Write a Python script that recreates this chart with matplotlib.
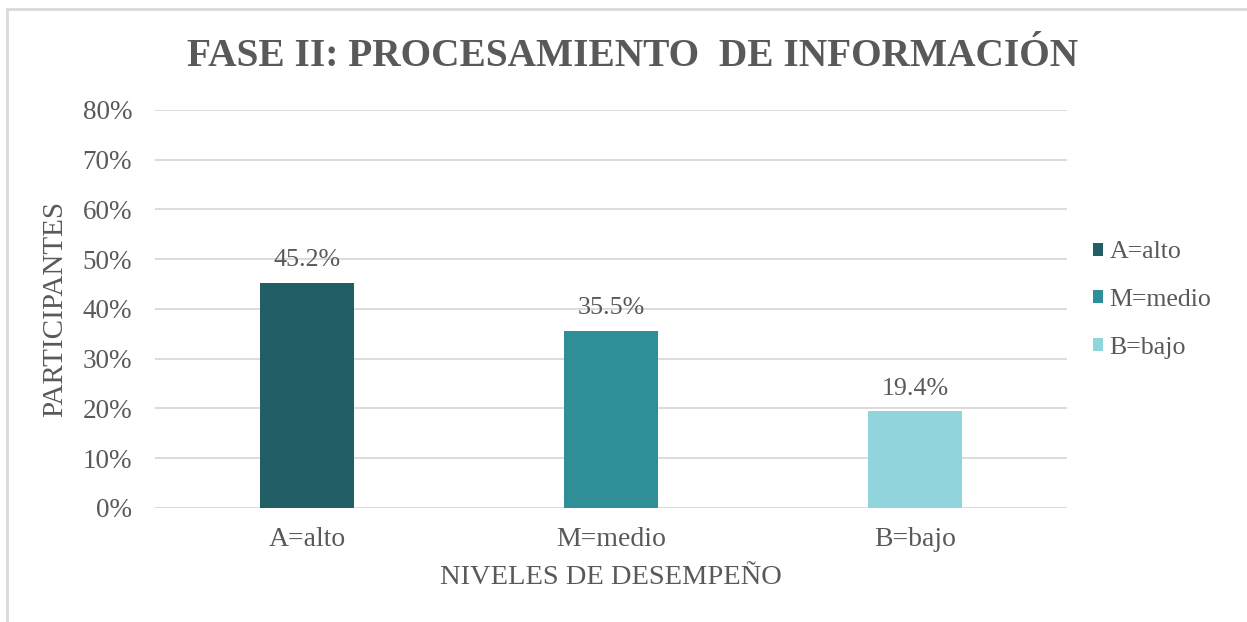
import matplotlib.pyplot as plt
from matplotlib.lines import Line2D
from matplotlib.patches import Patch
from matplotlib.ticker import FuncFormatter

# Data
categories = ['A=alto', 'M=medio', 'B=bajo']
values = [0.452, 0.355, 0.194]
labels = ['45.2%', '35.5%', '19.4%']
bar_colors = ['#215F65', '#2E8F99', '#91D5DC']

TEXT = '#595959'
GRID = '#D9D9D9'

plt.rcParams['font.family'] = ['Liberation Serif', 'DejaVu Serif']

fig = plt.figure(figsize=(12.47, 6.22), dpi=100)
ax = fig.add_axes([0.1243, 0.1833, 0.7314, 0.6399])

x = range(len(categories))
ax.bar(x, values, width=0.31, color=bar_colors, zorder=3)
for xi, v, lab in zip(x, values, labels):
    ax.text(xi, v + 0.034, lab, ha='center', va='baseline', fontsize=18.7,
            color=TEXT)

ax.set_xlim(-0.5, 2.5)
ax.set_ylim(0, 0.8)
ax.set_yticks([i / 10 for i in range(9)])
ax.yaxis.set_major_formatter(FuncFormatter(lambda v, p: f'{v * 100:.0f}%'))
ax.set_xticks(list(x))
ax.set_xticklabels(categories)
ax.tick_params(axis='both', length=0, labelcolor=TEXT)
ax.tick_params(axis='y', pad=16.5, labelsize=19.5)
ax.tick_params(axis='x', pad=14, labelsize=20)
ax.grid(axis='y', color=GRID, linewidth=1.3, zorder=0)
for s in ax.spines.values():
    s.set_visible(False)

ax.set_xlabel('NIVELES DE DESEMPEÑO', fontsize=20.5, color=TEXT, labelpad=9)
ax.set_ylabel('PARTICIPANTES', fontsize=21, color=TEXT, labelpad=10)

fig.text(0.507, 0.909, 'FASE II: PROCESAMIENTO  DE INFORMACIÓN',
         ha='center', va='center', fontsize=28.4, fontweight='bold',
         color=TEXT)

handles = [Patch(facecolor=c, edgecolor='none') for c in bar_colors]
fig.legend(handles, categories, loc='center left',
           bbox_to_anchor=(0.8765, 0.5175), frameon=False, fontsize=18.6,
           handlelength=0.4, handleheight=0.4, handletextpad=0.25,
           labelspacing=1.0, borderpad=0, borderaxespad=0, labelcolor=TEXT)

# outer chart frame (top and left edges visible)
fig.add_artist(Line2D([0.0056, 0.0056], [0.0, 0.985], color=GRID,
                      linewidth=2, transform=fig.transFigure))
fig.add_artist(Line2D([0.0056, 1.0], [0.985, 0.985], color=GRID,
                      linewidth=2, transform=fig.transFigure))

fig.savefig('out.png', dpi=100)
